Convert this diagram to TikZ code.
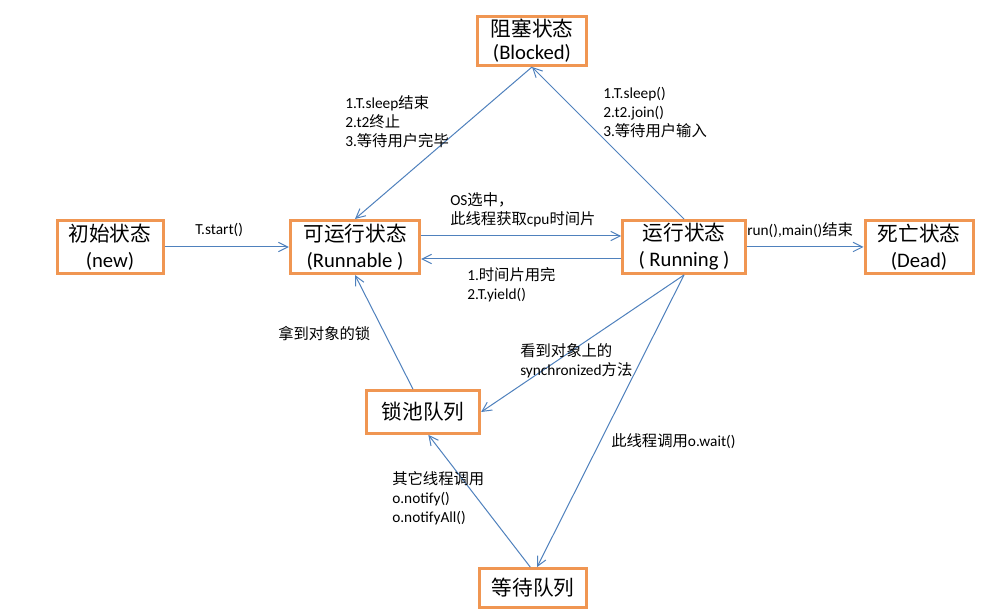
\documentclass[tikz,border=0pt]{standalone}
\usepackage{fontspec}
\setmainfont{Carlito}
\newfontfamily\cjk{Noto Sans CJK SC}
\usetikzlibrary{arrows.meta}
\definecolor{boxorange}{RGB}{240,150,82}
\definecolor{lineblue}{RGB}{79,129,189}

\begin{document}
\begin{tikzpicture}
[
x=0.75pt, y=-0.75pt,
state/.style={rectangle, draw=boxorange, line width=2.25pt, fill=white, align=center,
  inner sep=1pt, font=\fontsize{15.5}{19.5}\selectfont},
link/.style={draw=lineblue, line width=0.75pt, -{Straight Barb[length=7pt,width=7pt]}},
note/.style={align=left, anchor=north west, inner sep=0pt, font=\fontsize{11.5}{14.25}\selectfont}
]
\fill[white] (0,0) rectangle (1008,616);
\useasboundingbox (0,0) rectangle (1008,616);

% states
\node[state, minimum width=82pt, minimum height=36.75pt, font=\fontsize{15.5}{17.5}\selectfont] (blocked) at (532,41) {{\cjk 阻塞状态}\\(Blocked)};
\node[state, minimum width=79.5pt, minimum height=39.75pt] (new) at (110,247) {{\cjk 初始状态}\\(new)};
\node[state, minimum width=97pt, minimum height=39.75pt] (runnable) at (355,247) {{\cjk 可运行状态}\\(Runnable )};
\node[state, minimum width=92pt, minimum height=39.75pt] (running) at (684,247) {{\cjk 运行状态}\\( Running )};
\node[state, minimum width=81pt, minimum height=39.75pt] (dead) at (919,247) {{\cjk 死亡状态}\\(Dead)};
\node[state, minimum width=85pt, minimum height=32pt] (lockpool) at (423,412) {\cjk 锁池队列};
\node[state, minimum width=80pt, minimum height=29pt] (waitq) at (533,588) {\cjk 等待队列};

% transitions
\draw[link] (new.east) -- (runnable.west);
\draw[link] ([yshift=8.25pt]runnable.east) -- ([yshift=8.25pt]running.west);
\draw[link] ([yshift=-9pt]running.west) -- ([yshift=-9pt]runnable.east);
\draw[link] (running.east) -- (dead.west);
\draw[link] (running.north) -- (blocked.south);
\draw[link] (blocked.south) -- (runnable.north);
\draw[link] (running.south) -- (lockpool.east);
\draw[link] (running.south) -- ([xshift=3pt]waitq.north);
\draw[link] ([xshift=-7.5pt]lockpool.north) -- (runnable.south);
\draw[link] ([xshift=-2pt]waitq.north) -- ([xshift=4pt]lockpool.south);

% labels
\node[note] (lstart) at (195,223) {T.start()};
\node[note] (lselect) at (450,192) {OS{\cjk 选中，}\\{\cjk 此线程获取}cpu{\cjk 时间片}};
\node[note] (lyield) at (467,267) {1.{\cjk 时间片用完}\\2.T.yield()};
\node[note] (lend) at (747,222) {run(),main(){\cjk 结束}};
\node[note] (lwake) at (345,95) {1.T.sleep{\cjk 结束}\\2.t2{\cjk 终止}\\3.{\cjk 等待用户完毕}};
\node[note] (lblock) at (603,87) {1.T.sleep()\\2.t2.join()\\3.{\cjk 等待用户输入}};
\node[note] (llock) at (278,326) {\cjk 拿到对象的锁};
\node[note] (lsync) at (520,343) {{\cjk 看到对象上的}\\synchronized{\cjk 方法}};
\node[note] (lwait) at (611,433) {{\cjk 此线程调用}o.wait()};
\node[note] (lnotify) at (392,471) {{\cjk 其它线程调用}\\o.notify()\\o.notifyAll()};
\end{tikzpicture}
\end{document}
